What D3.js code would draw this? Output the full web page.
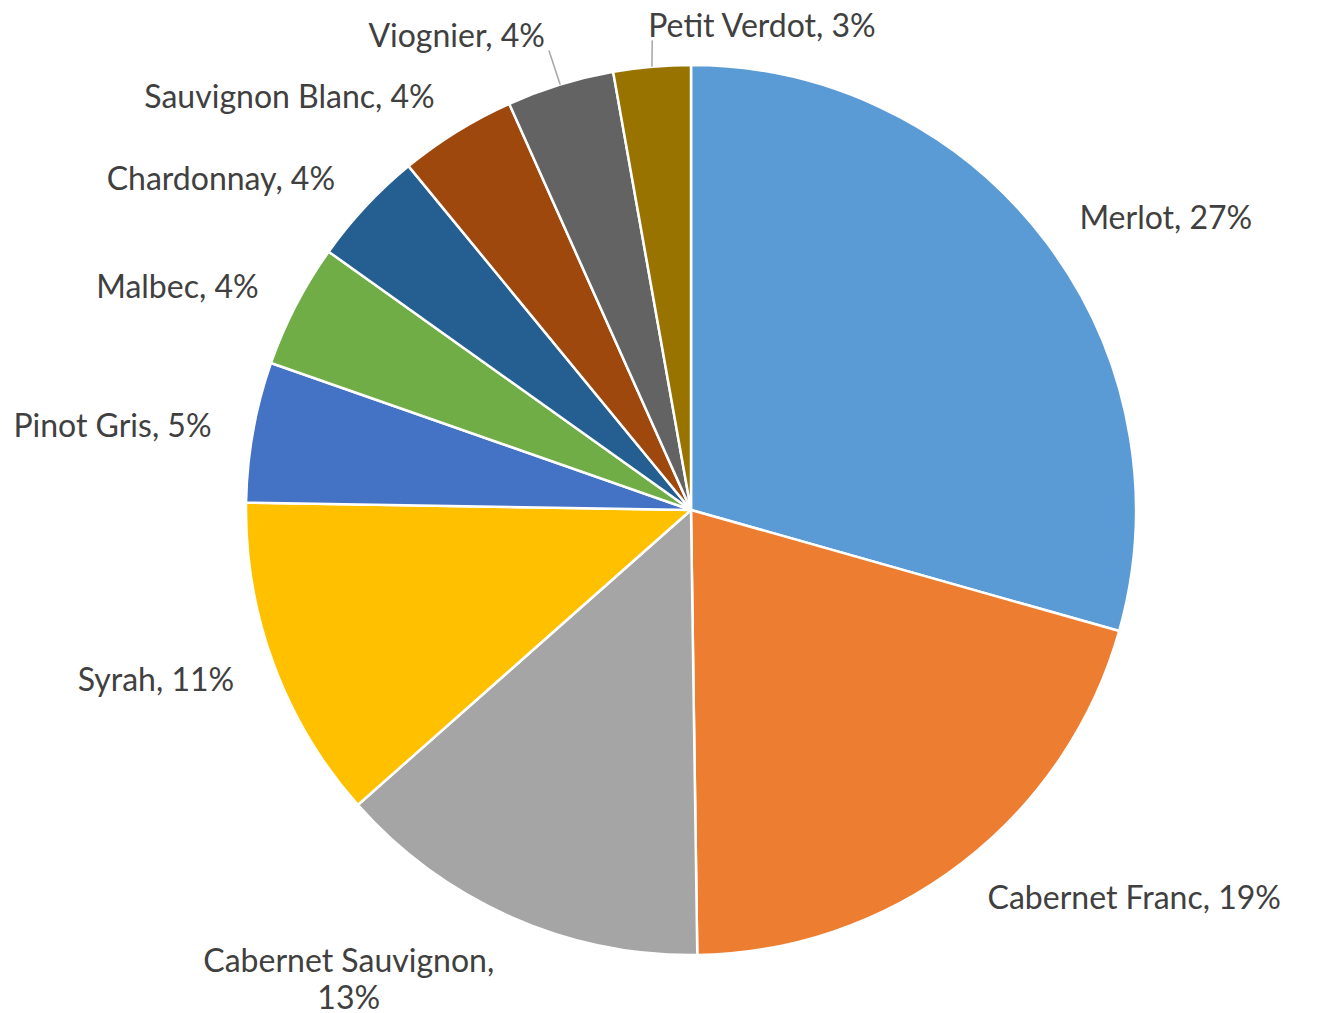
<!DOCTYPE html>
<meta charset="utf-8">
<style>
  body { margin: 0; background: #fff; }
  text { font-family: Lato, "Open Sans", sans-serif; fill: #404040; }
</style>
<body>
<script src="https://cdn.jsdelivr.net/npm/d3@7"></script>
<script>

// grape varieties, clockwise from 12 o'clock
var grapes = ["Merlot", "Cabernet Franc", "Cabernet Sauvignon", "Syrah",
              "Pinot Gris", "Malbec", "Chardonnay", "Sauvignon Blanc",
              "Viognier", "Petit Verdot"];
// slice sizes (share of the pie)
var shares = [29.4, 20.4, 13.7, 11.8, 5.1, 4.5, 4.2, 4.25, 3.9, 2.8];
// percentages printed in the data labels
var pctLabels = ["27%", "19%", "13%", "11%", "5%", "4%", "4%", "4%", "4%", "3%"];
var colors = ["#5B9BD5", "#ED7D31", "#A5A5A5", "#FFC000", "#4472C4",
              "#70AD47", "#255E91", "#9E480E", "#636363", "#997300"];

var width = 1317, height = 1013;
var cx = 691, cy = 510, radius = 445;
var fontSize = 32;

// labels that Excel pushed out and tied back with a leader line
var leaderLabels = ["Viognier", "Petit Verdot"];
// label split over two lines
var wrapLabels = ["Cabernet Sauvignon"];

var data = grapes.map(function(g, i) {
  return { name: g, value: shares[i], pct: pctLabels[i], color: colors[i] };
});

var svg = d3.select("body").append("svg")
    .attr("width", width)
    .attr("height", height);

var g = svg.append("g")
    .attr("transform", "translate(" + cx + "," + cy + ")");

var pie = d3.pie()
    .sort(null)
    .value(function(d) { return d.value; });

var arc = d3.arc()
    .innerRadius(0)
    .outerRadius(radius);

var arcs = pie(data);

g.selectAll("path.slice")
  .data(arcs)
  .enter().append("path")
  .attr("class", "slice")
  .attr("d", arc)
  .attr("fill", function(d) { return d.data.color; })
  .attr("stroke", "#fff")
  .attr("stroke-width", 2.5)
  .attr("stroke-linejoin", "round");

// label placement
var labels = g.append("g").attr("class", "labels");
var leaders = g.insert("g", ".labels").attr("class", "leaders");

arcs.forEach(function(d) {
  var mid = (d.startAngle + d.endAngle) / 2;
  var sx = Math.sin(mid), sy = -Math.cos(mid);
  var hasLeader = leaderLabels.indexOf(d.data.name) >= 0;
  var r = radius + (d.data.name == "Viognier" ? 52 : 42);
  var px = sx * r, py = sy * r;
  var anchor = sx > -0.1 ? "start" : "end";

  var lines = wrapLabels.indexOf(d.data.name) >= 0
      ? [d.data.name + ",", d.data.pct]
      : [d.data.name + ", " + d.data.pct];

  var t = labels.append("text")
      .style("font-size", fontSize + "px");

  lines.forEach(function(s, k) {
    t.append("tspan").attr("x", 0).attr("y", k * fontSize * 1.13).text(s);
  });

  // measure, then place the box beside the anchor point
  var bb = t.node().getBBox();
  var bx = anchor == "start" ? px : px - bb.width;
  var by;

  if (lines.length > 1) {
    // bottom label: hangs below the anchor, lines centred
    t.attr("text-anchor", "middle");
    var base = py + 0.72 * fontSize - 6;
    t.attr("transform", "translate(" + (bx + bb.width / 2) + "," + base + ")");
    by = base + bb.y;
  } else {
    by = py - bb.height / 2;
    t.attr("transform", "translate(" + (bx - bb.x) + "," + (by - bb.y) + ")");
  }

  if (hasLeader) {
    var ex = sx * radius, ey = sy * radius;
    var lx = anchor == "end"
        ? Math.min(ex, bx + bb.width + 4)
        : Math.max(bx + 4, Math.min(bx + bb.width - 4, ex));
    var ly = by + bb.height - 4;
    leaders.append("line")
      .attr("x1", lx).attr("y1", ly)
      .attr("x2", ex).attr("y2", ey)
      .attr("stroke", "#A6A6A6")
      .attr("stroke-width", 1.5);
  }
});

</script>
</body>
